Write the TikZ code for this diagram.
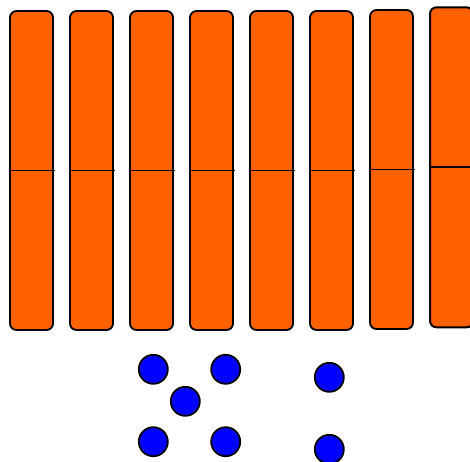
\documentclass[tikz,border=0pt]{standalone}
\definecolor{barorange}{RGB}{255,96,0}
\definecolor{dotblue}{RGB}{0,0,255}
\tikzset{
  bar/.style={draw=black, fill=barorange, line width=1.8pt, rounded corners=6.5pt,
    minimum width=43pt, minimum height=319pt, inner sep=0pt, outer sep=0pt},
  midline/.style={draw=black, line width=1.8pt},
  dot/.style={circle, draw=black, fill=dotblue, line width=1.8pt, minimum size=29pt, inner sep=0pt}
}
\begin{document}
\begin{tikzpicture}[x=1pt,y=-1pt]
\useasboundingbox (0,0) rectangle (470,461);
\clip (0,0) rectangle (470,461);
\foreach \i/\x/\y in {1/31.5/170.5, 2/91.5/170.5, 3/151.5/170.5, 4/211.5/170.5, 5/271.5/170.5, 6/331.5/170.5, 7/391.5/169.5}{
  \node[bar] (b\i) at (\x,\y) {};
  \draw[midline] (b\i.west) -- ([xshift=1.5pt]b\i.east);
}
\node[bar, minimum height=320pt, line width=2pt] (b8) at (451.5,167.3) {};
\draw[midline, line width=2.2pt] (b8.west) -- ([xshift=1.5pt]b8.east);
\node[dot] (c1) at (153.3,369.3) {};
\node[dot] (c2) at (225.7,369.3) {};
\node[dot] (c3) at (185.3,401.3) {};
\node[dot] (c4) at (153.3,441.7) {};
\node[dot] (c5) at (225.7,441.7) {};
\node[dot] (c6) at (329.3,377.3) {};
\node[dot] (c7) at (329.3,449.3) {};
\end{tikzpicture}
\end{document}
